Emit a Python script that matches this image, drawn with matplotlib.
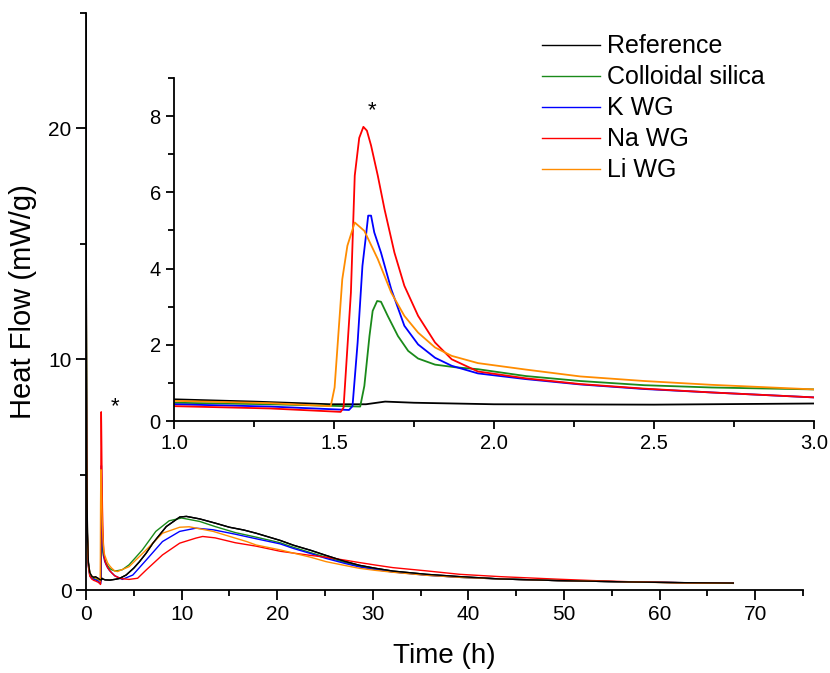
import matplotlib
matplotlib.use('Agg')
import matplotlib.pyplot as plt
from matplotlib.ticker import MultipleLocator

plt.rcParams['font.family'] = ['Liberation Sans', 'DejaVu Sans']

# time (h) and heat flow (mW/g) for each sample
t_ref = [0, 0.03, 0.08, 0.15, 0.25, 0.4, 0.6, 0.8, 1.0, 1.25, 1.49, 1.6, 1.66, 1.75, 2.0, 2.5, 3.0,
         3.5, 4.2, 5.0, 5.6, 6.3, 7.0, 8.4, 9.8, 10.5, 11.9, 13.5, 15.0, 16.5, 17.8, 20.3, 21.7,
         23.5, 25.1, 27, 28.6, 30.3, 32.1, 35.6, 39.1, 43.3, 49.3, 56.8, 62, 67.7]
q_ref = [25.5, 14, 6, 2.5, 1.2, 0.75, 0.6, 0.55, 0.57, 0.51, 0.44, 0.44, 0.51, 0.48, 0.44, 0.43, 0.46,
         0.5, 0.65, 0.95, 1.23, 1.6, 2.03, 2.75, 3.16, 3.19, 3.08, 2.9, 2.72, 2.6, 2.46, 2.15, 1.94,
         1.72, 1.5, 1.25, 1.07, 0.94, 0.82, 0.68, 0.58, 0.48, 0.41, 0.35, 0.32, 0.3]

t_col = [0, 0.03, 0.08, 0.15, 0.25, 0.4, 0.6, 0.8, 1.0, 1.3, 1.582, 1.595, 1.611, 1.621, 1.635,
         1.647, 1.668, 1.7, 1.732, 1.763, 1.816, 1.88, 1.95, 2.1, 2.27, 2.47, 2.68, 3.0, 3.3, 3.8,
         4.5, 5.9, 7.3, 8.7, 10.0, 11.9, 13.5, 15.6, 17.8, 20.3, 21.7, 23.5, 25.1, 27, 28.6, 30.3,
         32.1, 35.6, 39.1, 43.3, 49.3, 56.8, 62, 67.7]
q_col = [18, 12, 5.5, 2.3, 1.1, 0.7, 0.55, 0.5, 0.48, 0.44, 0.38, 0.92, 2.23, 2.89, 3.15,
         3.13, 2.76, 2.23, 1.84, 1.64, 1.48, 1.41, 1.36, 1.18, 1.05, 0.94, 0.88, 0.83, 0.84, 0.88,
         1.09, 1.74, 2.54, 3.0, 3.12, 2.97, 2.75, 2.49, 2.29, 2.05, 1.85, 1.62, 1.42, 1.2, 1.03, 0.9,
         0.79, 0.65, 0.55, 0.48, 0.41, 0.35, 0.32, 0.29]

t_k = [0, 0.03, 0.08, 0.15, 0.25, 0.4, 0.6, 0.8, 1.0, 1.3, 1.547, 1.558, 1.574, 1.589, 1.6, 1.607,
       1.616, 1.626, 1.647, 1.679, 1.72, 1.763, 1.816, 1.868, 1.95, 2.1, 2.27, 2.47, 2.68, 3.0,
       3.8, 4.9, 6.3, 8.0, 9.8, 11.5, 13.3, 15.6, 17.8, 20.3, 21.7, 23.5, 25.1, 27, 28.6, 30.3,
       32.1, 35.6, 39.1, 43.3, 49.3, 56.8, 62, 67.7]
q_k = [15, 10, 5, 2.2, 1.05, 0.62, 0.5, 0.46, 0.44, 0.38, 0.29, 0.39, 2.06, 4.07, 4.86, 5.39,
       5.39, 4.95, 4.42, 3.46, 2.5, 2.01, 1.66, 1.45, 1.25, 1.1, 0.96, 0.84, 0.75, 0.62,
       0.46, 0.65, 1.3, 2.1, 2.54, 2.68, 2.61, 2.42, 2.22, 2.0, 1.8, 1.58, 1.37, 1.16, 1.0, 0.88,
       0.78, 0.64, 0.55, 0.48, 0.41, 0.35, 0.32, 0.29]

t_na = [0, 0.03, 0.08, 0.15, 0.25, 0.4, 0.6, 0.8, 1.0, 1.3, 1.521, 1.53, 1.553, 1.565, 1.579,
        1.592, 1.603, 1.616, 1.637, 1.658, 1.689, 1.72, 1.763, 1.816, 1.868, 1.95, 2.1, 2.27,
        2.47, 2.68, 3.0, 3.6, 4.5, 5.4, 6.3, 8.0, 9.8, 11.5, 12.2, 13.5, 15.6, 17.8, 20.3, 21.7,
        23.5, 25.1, 27, 28.6, 30.3, 32.1, 35.6, 39.1, 43.3, 49.3, 53, 56.8, 62, 67.7]
q_na = [14, 9, 4.5, 2.0, 1.0, 0.6, 0.48, 0.42, 0.39, 0.33, 0.24, 0.35, 3.37, 6.44, 7.43,
        7.72, 7.62, 7.23, 6.44, 5.56, 4.42, 3.55, 2.76, 2.06, 1.62, 1.3, 1.12, 0.97,
        0.85, 0.75, 0.62, 0.5, 0.46, 0.51, 0.87, 1.52, 2.03, 2.25, 2.32, 2.26, 2.05, 1.9, 1.68, 1.6,
        1.5, 1.42, 1.3, 1.19, 1.08, 0.97, 0.83, 0.68, 0.58, 0.47, 0.41, 0.36, 0.32, 0.29]

t_li = [0, 0.03, 0.08, 0.15, 0.25, 0.4, 0.6, 0.8, 1.0, 1.3, 1.49, 1.502, 1.526, 1.542, 1.565,
        1.595, 1.637, 1.679, 1.72, 1.763, 1.816, 1.868, 1.95, 2.1, 2.27, 2.47, 2.68, 3.0, 3.3,
        4.5, 6.3, 8.0, 9.8, 10.8, 13.3, 15.6, 16.8, 17.8, 20.3, 21.7, 23.5, 25.1, 27, 28.6, 30.3,
        32.1, 35.6, 39.1, 43.3, 49.3, 56.8, 62, 67.7]
q_li = [22, 13, 5.8, 2.4, 1.15, 0.72, 0.6, 0.55, 0.53, 0.47, 0.39, 0.88, 3.72, 4.6, 5.21,
        4.99, 4.25, 3.37, 2.76, 2.32, 1.93, 1.71, 1.52, 1.35, 1.17, 1.05, 0.95, 0.83, 0.8,
        1.01, 1.74, 2.46, 2.72, 2.74, 2.54, 2.25, 2.1, 1.95, 1.74, 1.6, 1.42, 1.23, 1.07, 0.94, 0.85,
        0.77, 0.64, 0.55, 0.48, 0.41, 0.35, 0.31, 0.29]

labels = ['Reference', 'Colloidal silica', 'K WG', 'Na WG', 'Li WG']
colors = ['black', '#1a8a1a', '#0000ff', '#ff0000', '#ff8c00']
series = [(t_ref, q_ref), (t_col, q_col), (t_k, q_k), (t_na, q_na), (t_li, q_li)]

fig = plt.figure(figsize=(8.3, 6.73), dpi=100)
ax = fig.add_axes([0.1036, 0.1233, 0.864, 0.8574])

handles = []
for (t, q), lab, c in zip(series, labels, colors):
    h, = ax.plot(t, q, color=c, lw=1.0, label=lab)
    handles.append(h)
# draw reference again on top, like the original
ax.plot(t_ref, q_ref, color='black', lw=1.0)

ax.set_xlim(0, 75)
ax.set_ylim(0, 25)
ax.xaxis.set_major_locator(MultipleLocator(10))
ax.xaxis.set_minor_locator(MultipleLocator(5))
ax.yaxis.set_major_locator(MultipleLocator(10))
ax.yaxis.set_minor_locator(MultipleLocator(5))
for s in ['top', 'right']:
    ax.spines[s].set_visible(False)
for s in ['left', 'bottom']:
    ax.spines[s].set_linewidth(1.3)
ax.tick_params(which='major', length=7, width=1.3, labelsize=15)
ax.tick_params(which='minor', length=4, width=1.3)
ax.set_xlabel('Time (h)', fontsize=20, labelpad=14)
ax.set_ylabel('Heat Flow (mW/g)', fontsize=21, labelpad=8)
ax.text(3.0, 7.95, '*', fontsize=16, ha='center', va='center')

# inset: zoom of the first hours
ins = fig.add_axes([0.2096, 0.3744, 0.771, 0.5096])
ins.patch.set_alpha(0)
for (t, q), c in zip(series, colors):
    ins.plot(t, q, color=c, lw=1.3)
ins.set_xlim(1.0, 3.0)
ins.set_ylim(0, 9)
ins.xaxis.set_major_locator(MultipleLocator(0.5))
ins.xaxis.set_minor_locator(MultipleLocator(0.25))
ins.yaxis.set_minor_locator(MultipleLocator(1))
ins.set_yticks([0, 2, 4, 6, 8])
for s in ['top', 'right']:
    ins.spines[s].set_visible(False)
for s in ['left', 'bottom']:
    ins.spines[s].set_linewidth(1.3)
ins.tick_params(which='major', length=6, width=1.3, labelsize=14.5)
ins.tick_params(which='minor', length=4, width=1.3)
ins.text(1.62, 8.15, '*', fontsize=16, ha='center', va='center')

fig.legend(handles, labels, loc='upper left', bbox_to_anchor=(0.632, 0.975),
           frameon=False, fontsize=18, labelspacing=0.28, handlelength=2.3,
           handletextpad=0.3, borderpad=0.2)

fig.savefig('out.png', dpi=100)
